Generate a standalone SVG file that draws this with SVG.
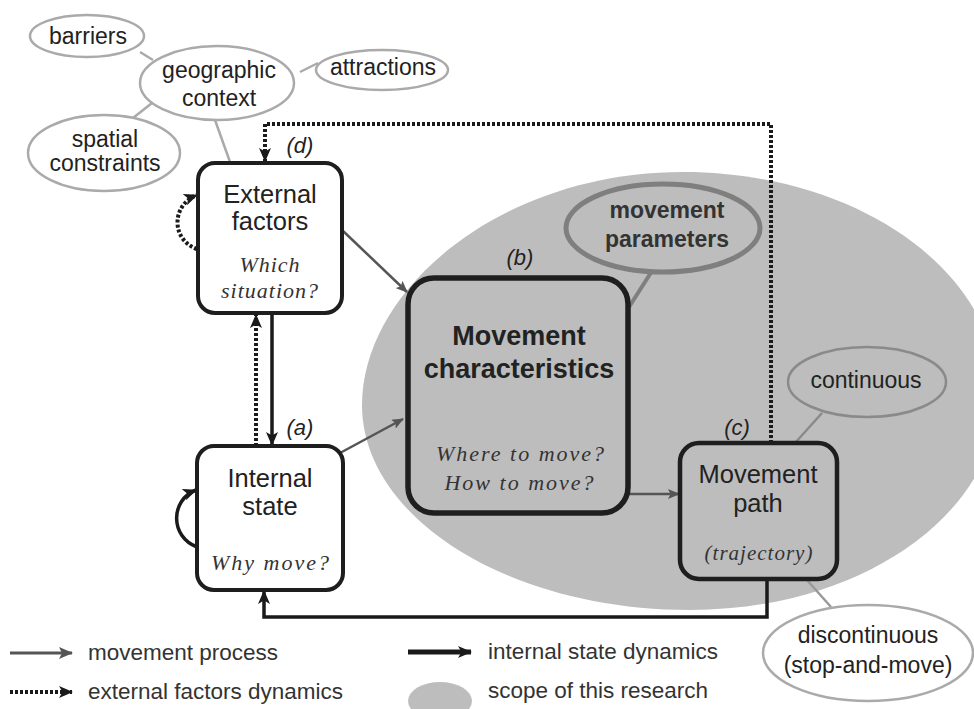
<svg xmlns="http://www.w3.org/2000/svg" width="974" height="709" viewBox="0 0 974 709">
<style>
.sans{font-family:"Liberation Sans",Arial,sans-serif;fill:#222;}
.t26{font-size:25.5px;text-anchor:middle;}
.t23{font-size:23px;text-anchor:middle;}
.bold{font-weight:bold;}
.ser{font-family:"Liberation Serif","Times New Roman",serif;font-style:italic;fill:#333;text-anchor:middle;}
.lab{font-family:"Liberation Sans",Arial,sans-serif;font-style:italic;font-size:22px;fill:#222;text-anchor:middle;}
.leg{font-family:"Liberation Sans",Arial,sans-serif;font-size:22.5px;fill:#333;}
.box{fill:#fff;stroke:#1e1e1e;stroke-width:4;}
.boxg{fill:none;stroke:#1e1e1e;}
.ell{fill:#fff;stroke:#aaa;stroke-width:2.5;}
.lnk{stroke:#aaa;stroke-width:2.5;fill:none;}
.proc{stroke:#555;stroke-width:2.5;fill:none;}
.dyn{stroke:#1a1a1a;stroke-width:3.5;fill:none;}
.dot{stroke:#1a1a1a;stroke-width:4;stroke-dasharray:3 2;fill:none;}
</style>
<defs>
<marker id="ag" markerUnits="userSpaceOnUse" viewBox="0 0 12 10" refX="11" refY="5" markerWidth="12" markerHeight="10" orient="auto">
<path d="M0,0 L12,5 L0,10 L2.5,5 z" fill="#555"/>
</marker>
<marker id="ab" markerUnits="userSpaceOnUse" viewBox="0 0 14 12" refX="13" refY="6" markerWidth="14" markerHeight="12" orient="auto">
<path d="M0,0 L14,6 L0,12 L3.5,6 z" fill="#1a1a1a"/>
</marker>
<marker id="agl" markerUnits="userSpaceOnUse" viewBox="0 0 14 12" refX="13" refY="6" markerWidth="14" markerHeight="12" orient="auto">
<path d="M0,0 L14,6 L0,12 L3,6 z" fill="#555"/>
</marker>
</defs>
<rect width="974" height="709" fill="#fff"/>

<g id="scope">
<path d="M683,172 C500,172 362,290 362,405 C362,518 509,610 690,610 C861,610 998,514 998,395 C998,272 858,172 683,172 Z" fill="#bdbdbd"/>
</g>

<g id="connectors">
<line class="lnk" x1="140" y1="52" x2="153" y2="60"/>
<line class="lnk" x1="300" y1="72" x2="318" y2="63"/>
<line class="lnk" x1="152" y1="103" x2="133" y2="118"/>
<line class="lnk" x1="215" y1="120" x2="230" y2="162"/>
<line x1="652" y1="271" x2="629" y2="307" stroke="#7f7f7f" stroke-width="4"/>
<line x1="822" y1="413" x2="795" y2="443" stroke="#8a8a8a" stroke-width="2.5"/>
<line x1="807" y1="580" x2="831" y2="607" stroke="#999" stroke-width="2.5"/>
<line class="proc" x1="342" y1="230" x2="407" y2="292" marker-end="url(#ag)"/>
<line class="proc" x1="340" y1="453" x2="403" y2="419" marker-end="url(#ag)"/>
<line class="proc" x1="629" y1="494" x2="679" y2="494" marker-end="url(#ag)" stroke-width="3"/>
<path class="dyn" d="M272,313 V445" marker-end="url(#ab)"/>
<path class="dot" d="M256,446 V315" marker-end="url(#ab)"/>
<path class="dyn" d="M197,547 C170,537 170,500 196,490" marker-end="url(#ab)" stroke-width="3"/>
<path class="dot" d="M197,249 C171,240 171,205 197,195" marker-end="url(#ab)" stroke-width="3.5"/>
<path class="dot" d="M771,443 V124 H265 V161" marker-end="url(#ab)" stroke-width="3.5"/>
<path class="dyn" d="M767,579 V617 H264 V591" marker-end="url(#ab)"/>
</g>

<g id="barriers">
<ellipse class="ell" cx="87" cy="36" rx="57" ry="21"/>
<text class="sans t23" x="88" y="44">barriers</text>
</g>
<g id="geographic-context">
<ellipse class="ell" cx="217" cy="83" rx="77" ry="37"/>
<text class="sans t23" x="219" y="78">geographic</text>
<text class="sans t23" x="219" y="106">context</text>
</g>
<g id="attractions">
<ellipse class="ell" cx="382" cy="70" rx="66" ry="20"/>
<text class="sans t23" x="383" y="75">attractions</text>
</g>
<g id="spatial-constraints">
<ellipse class="ell" cx="104" cy="153" rx="76" ry="38"/>
<text class="sans t23" x="105" y="147">spatial</text>
<text class="sans t23" x="105" y="171">constraints</text>
</g>

<g id="external-factors">
<rect class="box" x="198" y="163" width="144" height="150" rx="17"/>
<text class="sans t26" x="270" y="203">External</text>
<text class="sans t26" x="270" y="230">factors</text>
<text class="ser" x="270" y="272" font-size="22" letter-spacing="1">Which</text>
<text class="ser" x="270" y="298" font-size="22" letter-spacing="1">situation?</text>
<text class="lab" x="300" y="153">(d)</text>
</g>

<g id="internal-state">
<rect class="box" x="197" y="446" width="146" height="144" rx="17"/>
<text class="sans t26" x="270" y="487">Internal</text>
<text class="sans t26" x="270" y="515">state</text>
<text class="ser" x="271" y="570" font-size="22" letter-spacing="2">Why move?</text>
<text class="lab" x="300" y="435">(a)</text>
</g>

<g id="movement-characteristics">
<rect class="boxg" x="408" y="278" width="220" height="235" rx="26" stroke-width="5.5"/>
<text class="sans bold" x="519" y="345" font-size="27" text-anchor="middle">Movement</text>
<text class="sans bold" x="519" y="378" font-size="27" text-anchor="middle">characteristics</text>
<text class="ser" x="521" y="461" font-size="22" letter-spacing="2">Where to move?</text>
<text class="ser" x="520" y="490" font-size="22" letter-spacing="2">How to move?</text>
<text class="lab" x="520" y="265">(b)</text>
</g>

<g id="movement-parameters">
<ellipse cx="663" cy="228" rx="97" ry="44" fill="none" stroke="#7f7f7f" stroke-width="5"/>
<text class="sans bold t23" x="667" y="218" style="fill:#333">movement</text>
<text class="sans bold t23" x="667" y="247" style="fill:#333">parameters</text>
</g>

<g id="movement-path">
<rect class="boxg" x="680" y="443" width="157" height="136" rx="19" stroke-width="4.5"/>
<text class="sans t26" x="758" y="483">Movement</text>
<text class="sans t26" x="758" y="512">path</text>
<text class="ser" x="759" y="560" font-size="21" letter-spacing="1">(trajectory)</text>
<text class="lab" x="737" y="435">(c)</text>
</g>

<g id="continuous">
<ellipse cx="867" cy="382" rx="79" ry="35" fill="none" stroke="#8a8a8a" stroke-width="2.5"/>
<text class="sans t23" x="866" y="388">continuous</text>
</g>

<g id="discontinuous">
<ellipse class="ell" cx="868" cy="653" rx="105" ry="48"/>
<text class="sans t23" x="868" y="643">discontinuous</text>
<text class="sans t23" x="868" y="673">(stop-and-move)</text>
</g>

<g id="legend">
<line x1="10" y1="653" x2="72" y2="653" stroke="#555" stroke-width="3" marker-end="url(#agl)"/>
<text class="leg" x="88" y="660">movement process</text>
<line class="dot" x1="10" y1="692" x2="72" y2="692" stroke-width="4" marker-end="url(#ab)"/>
<text class="leg" x="88" y="699">external factors dynamics</text>
<line x1="408" y1="652" x2="471" y2="652" stroke="#1a1a1a" stroke-width="5" marker-end="url(#ab)"/>
<text class="leg" x="488" y="659">internal state dynamics</text>
<ellipse cx="440" cy="701" rx="32" ry="19" fill="#bdbdbd"/>
<text class="leg" x="488" y="698">scope of this research</text>
</g>
</svg>
